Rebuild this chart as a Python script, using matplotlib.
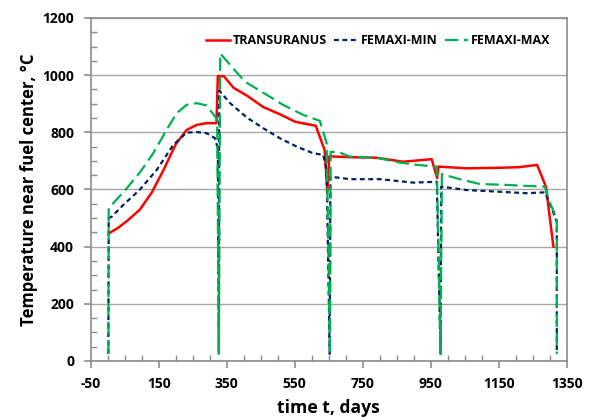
import matplotlib
matplotlib.use("Agg")
import matplotlib.pyplot as plt
from matplotlib.ticker import MultipleLocator

# time points (days) and centre temperatures (°C) for each code
t_tu = [4, 30, 60, 95, 130, 165, 200, 232, 262, 291, 320, 324, 342, 370, 410,
        458, 507, 551, 612, 638, 646, 652, 712, 791, 869, 953, 969, 973, 1056,
        1154, 1210, 1263, 1289, 1311]
temp_tu = [447, 465, 493, 530, 590, 670, 758, 808, 826, 832, 832, 997, 996, 956,
           928, 888, 863, 837, 823, 738, 592, 716, 713, 711, 697, 706, 640, 680,
           674, 676, 678, 686, 610, 400]

t_min = [2, 3, 12, 46, 95, 144, 193, 232, 262, 291, 315, 324, 327, 328, 360,
         409, 458, 507, 556, 604, 634, 644, 653, 655, 712, 801, 899, 968, 979,
         981, 1056, 1154, 1232, 1286, 1306, 1321, 1321]
temp_min = [25, 500, 505, 546, 600, 668, 756, 799, 801, 797, 780, 744, 25, 946,
            902, 852, 814, 779, 750, 727, 721, 668, 25, 645, 636, 636, 624, 627,
            25, 610, 598, 592, 587, 590, 534, 487, 25]

t_max = [2, 3, 12, 56, 95, 134, 173, 203, 232, 262, 291, 316, 322, 327, 331,
         369, 404, 468, 516, 575, 624, 644, 654, 656, 683, 712, 791, 860, 909,
         968, 979, 983, 1026, 1095, 1174, 1222, 1286, 1301, 1321, 1321]
temp_max = [25, 536, 546, 604, 660, 727, 808, 867, 896, 902, 894, 855, 843, 25,
            1076, 1024, 977, 931, 896, 861, 840, 762, 25, 732, 729, 715, 711, 694,
            686, 680, 25, 654, 639, 619, 616, 613, 610, 552, 499, 25]

x_ticks = list(range(-50, 1351, 200))
y_ticks = list(range(0, 1201, 200))

plt.rcParams['font.family'] = ['Open Sans', 'DejaVu Sans']
plt.rcParams['font.weight'] = 'bold'
plt.rcParams['axes.unicode_minus'] = False

fig = plt.figure(figsize=(5.95, 4.18), dpi=100)
ax = fig.add_axes([0.1524, 0.1364, 0.80, 0.8206])

ax.plot(t_tu, temp_tu, color='#FF0000', lw=1.8, label='TRANSURANUS', zorder=3)
ax.plot(t_min, temp_min, color='#002060', lw=1.6, ls=(0, (2.2, 1.6)),
        label='FEMAXI-MIN', zorder=4)
ax.plot(t_max, temp_max, color='#00B050', lw=1.6, ls=(0, (6, 2.5)),
        label='FEMAXI-MAX', zorder=5)

ax.set_xlim(-50, 1350)
ax.set_ylim(0, 1200)
ax.set_xticks(x_ticks)
ax.set_yticks(y_ticks)
ax.xaxis.set_minor_locator(MultipleLocator(50))
ax.yaxis.set_minor_locator(MultipleLocator(50))

ax.grid(axis='y', which='major', color='#A6A6A6', lw=1, zorder=0)
for s in ax.spines.values():
    s.set_color('#8C8C8C')
    s.set_linewidth(1.2)
ax.tick_params(which='major', direction='out', length=5, color='#8C8C8C',
               width=1.2, labelsize=10)
ax.tick_params(axis='x', which='major', pad=6.5)
ax.tick_params(axis='y', which='major', pad=7)
ax.tick_params(which='minor', direction='in', length=4, color='#8C8C8C',
               width=1)
for lbl in ax.get_xticklabels() + ax.get_yticklabels():
    lbl.set_fontweight('bold')

ax.set_xlabel('time t, days', fontsize=12.6, fontweight='bold', labelpad=6)
ax.set_ylabel('Temperature near fuel center, °C', fontsize=12,
              fontweight='bold', labelpad=3)

ax.legend(loc='upper right', ncol=3, frameon=False,
          handlelength=1.9, columnspacing=0.6, handletextpad=0.2,
          borderaxespad=0.9, prop={'weight': 'bold', 'size': 9})

fig.savefig('out.png', dpi=100)
